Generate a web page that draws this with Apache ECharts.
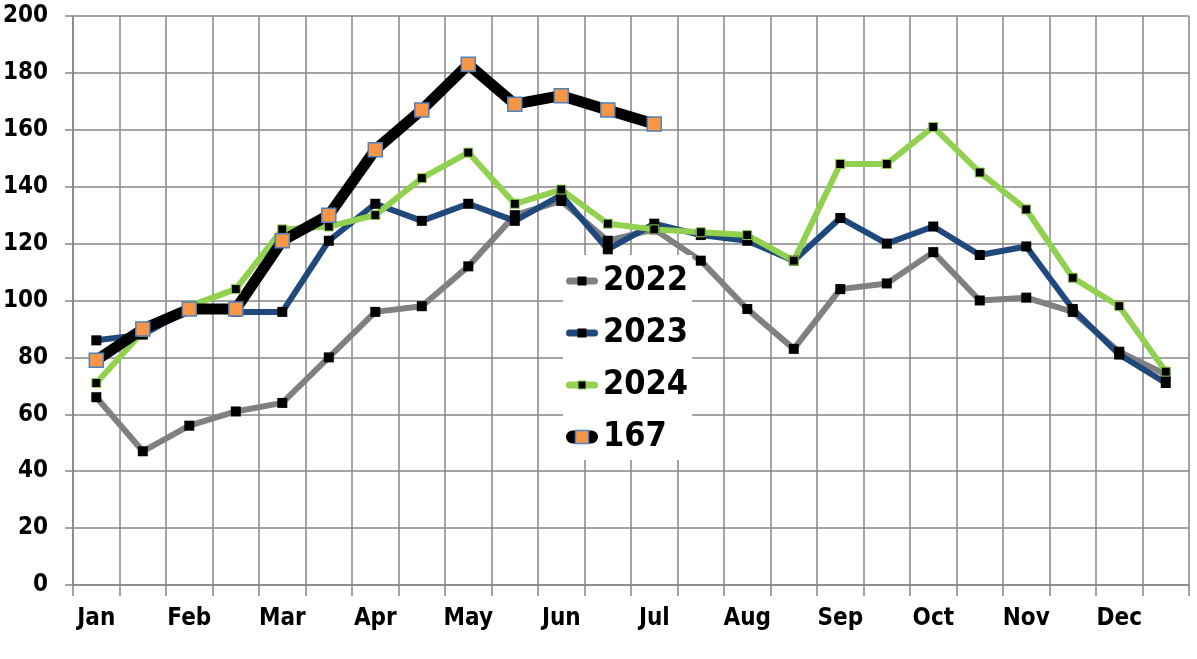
<!DOCTYPE html>
<html><head><meta charset="utf-8">
<script src="https://cdn.jsdelivr.net/npm/echarts@6/dist/echarts.min.js"></script>
<style>html,body{margin:0;padding:0;background:#fff}#c{width:1197px;height:659px}</style>
</head><body><div id="c"></div>
<script>
const monthLabels = ['Jan','Feb','Mar','Apr','May','Jun','Jul','Aug','Sep','Oct','Nov','Dec'];
const categories = ['Jan-1','Jan-2','Feb-1','Feb-2','Mar-1','Mar-2','Apr-1','Apr-2','May-1','May-2','Jun-1','Jun-2',
  'Jul-1','Jul-2','Aug-1','Aug-2','Sep-1','Sep-2','Oct-1','Oct-2','Nov-1','Nov-2','Dec-1','Dec-2'];
const yTicks = [0,20,40,60,80,100,120,140,160,180,200];
const seriesNames = ['2022','2023','2024','167'];
const s2022 = [66,47,56,61,64,80,96,98,112,130,135,121,125,114,97,83,104,106,117,100,101,96,82,74];
const s2023 = [86,88,97,96,96,121,134,128,134,128,137,118,127,123,121,114,129,120,126,116,119,97,81,71];
const s2024 = [71,89,98,104,125,126,130,143,152,134,139,127,125,124,123,114,148,148,161,145,132,108,98,75];
const s167  = [79,90,97,97,121,130,153,167,183,169,172,167,162,null,null,null,null,null,null,null,null,null,null,null];

const FONT = '"DejaVu Sans Condensed", "DejaVu Sans", sans-serif';
const GRID_COLOR = '#868686';
const chart = echarts.init(document.getElementById('c'), null, {renderer:'canvas'});

function lineSeries(name, data, color, width, sym, symFill, symBorder, symBorderW){
  return {
    name, type:'line', data, connectNulls:false, smooth:false,
    symbol:'rect', symbolSize:sym, showAllSymbol:true,
    lineStyle:{color, width, cap:'round', join:'round'},
    itemStyle:{color:symFill, borderColor:symBorder, borderWidth:symBorderW},
    emphasis:{disabled:true}
  };
}
// legend icon: rounded line with square marker (styling only)
function legendIcon(w, h, lineColor, lineW, sq, fill, stroke, strokeW){
  const y = h/2, r = lineW/2;
  const svg = `<svg xmlns="http://www.w3.org/2000/svg" width="${w}" height="${h}">`+
    `<line x1="${r}" y1="${y}" x2="${w-r}" y2="${y}" stroke="${lineColor}" stroke-width="${lineW}" stroke-linecap="round"/>`+
    `<rect x="${(w-sq)/2}" y="${(h-sq)/2}" width="${sq}" height="${sq}" fill="${fill}" stroke="${stroke}" stroke-width="${strokeW}"/>`+
    `</svg>`;
  return 'image://data:image/svg+xml;charset=utf-8,' + encodeURIComponent(svg);
}
const legendText = {fontFamily:FONT, fontWeight:'bold', fontSize:34, color:'#000', lineHeight:40};

chart.setOption({
  animation:false,
  backgroundColor:'#fff',
  grid:{left:72, right:8, top:16, bottom:74, containLabel:false},
  xAxis:{
    type:'category', data:categories, boundaryGap:true,
    axisLine:{show:true, lineStyle:{color:GRID_COLOR, width:1.5}},
    axisTick:{show:true, interval:0, length:11, lineStyle:{color:GRID_COLOR, width:1.5}},
    axisLabel:{interval:0, margin:22, fontFamily:FONT, fontWeight:'bold', fontSize:24, color:'#000',
      formatter:(v, i)=> (i % 2 === 0 ? monthLabels[i/2] : '')},
    splitLine:{show:true, interval:0, lineStyle:{color:GRID_COLOR, width:1.5}}
  },
  yAxis:{
    type:'value', min:yTicks[0], max:yTicks[yTicks.length-1], interval:yTicks[1]-yTicks[0],
    axisLine:{show:true, lineStyle:{color:GRID_COLOR, width:1.5}},
    axisTick:{show:true, length:8, lineStyle:{color:GRID_COLOR, width:1.5}},
    axisLabel:{margin:25, fontFamily:FONT, fontWeight:'bold', fontSize:24, color:'#000'},
    splitLine:{show:true, lineStyle:{color:GRID_COLOR, width:1.5}}
  },
  legend:{
    orient:'vertical', left:563, top:255, backgroundColor:'#fff',
    padding:[6,4,3,3], itemGap:12, itemWidth:32, itemHeight:16,
    textStyle:legendText,
    data:[
      {name:seriesNames[0], icon:legendIcon(32,16,'#808080',7,9,'#000','#000',0)},
      {name:seriesNames[1], icon:legendIcon(32,16,'#1F497D',7,9,'#000','#000',0)},
      {name:seriesNames[2], icon:legendIcon(32,16,'#92D050',7,8,'#000','#92D050',1)},
      {name:seriesNames[3], icon:legendIcon(32,16,'#000000',13,13,'#F79646','#4F81BD',1.5)}
    ]
  },
  series:[
    lineSeries(seriesNames[0], s2022, '#808080', 6, 10, '#000', '#000', 0),
    lineSeries(seriesNames[1], s2023, '#1F497D', 6, 10, '#000', '#000', 0),
    lineSeries(seriesNames[2], s2024, '#92D050', 6, 9, '#000', '#92D050', 1),
    lineSeries(seriesNames[3], s167, '#000000', 11, 14, '#F79646', '#4F81BD', 1.5)
  ]
});
</script></body></html>
